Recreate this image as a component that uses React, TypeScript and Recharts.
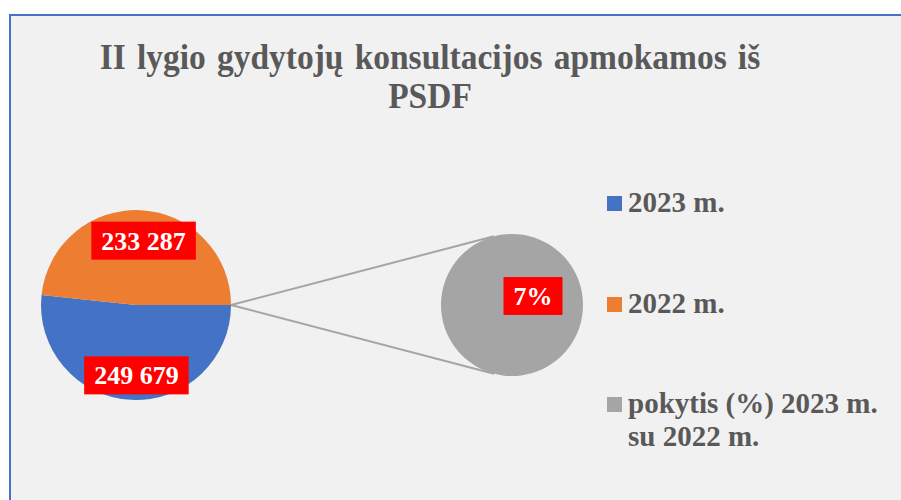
import React from 'react';
import { PieChart, Pie, Cell } from 'recharts';

const categories = ['2023 m.', '2022 m.', 'pokytis (%) 2023 m. su 2022 m.'];
const consultations = [249679, 233287];
const changePercent = [7];
const colors = ['#4472C4', '#ED7D31', '#A5A5A5'];
const titleText = 'II lygio gydytojų konsultacijos apmokamos iš PSDF';

const FONT = '"Liberation Serif", "Times New Roman", serif';
const TEXT_COLOR = '#595959';

// pie geometry (main pie + the "pie of pie")
const MAIN = { cx: 136, cy: 305, r: 95 };
const SUB = { cx: 512, cy: 305, r: 71 };

const mainData = consultations.map((v, i) => ({ name: categories[i], value: v }));
const subData = changePercent.map((v, i) => ({ name: categories[2 + i], value: v }));

const fmtThousands = (v: number) => {
  const s = Math.round(v).toString();
  return s.replace(/\B(?=(\d{3})+(?!\d))/g, ' ');
};

// rough width of bold serif text at 26px
const textWidth = (s: string) =>
  s.split('').reduce((acc, ch) => acc + (ch === ' ' ? 6.5 : ch === '%' ? 26 : 13), 0);

const boxLabel = (fmt: (v: number) => string, factor: number, dx = 0, dy = 0) => (props: any) => {
  const { cx, cy, midAngle, outerRadius, value } = props;
  const RAD = Math.PI / 180;
  const r = outerRadius * factor;
  const x = cx + r * Math.cos(-midAngle * RAD) + dx;
  const y = cy + r * Math.sin(-midAngle * RAD) + dy;
  const text = fmt(value);
  const w = textWidth(text) + 20;
  return (
    <g>
      <rect x={x - w / 2} y={y - 19} width={w} height={38} fill="#FF0000" />
      <text x={x} y={y} dy={9} textAnchor="middle" fill="#FFFFFF" fontFamily={FONT} fontWeight="bold" fontSize={26}>
        {text}
      </text>
    </g>
  );
};

// connector lines from the main pie edge to tangent points of the second pie
const connectors = () => {
  const px = MAIN.cx + MAIN.r;
  const py = MAIN.cy;
  const d = SUB.cx - px;
  const t = Math.acos(SUB.r / d);
  const tx = SUB.cx - SUB.r * Math.cos(t);
  const ty = SUB.r * Math.sin(t);
  return [
    [px, py, tx, SUB.cy - ty],
    [px, py, tx, SUB.cy + ty],
  ];
};

export default function App() {
  return (
    <div style={{ position: 'absolute', left: 0, top: 0, width: 901, height: 500, background: '#fff', overflow: 'hidden' }}>
      <div
        style={{
          position: 'absolute', left: 9, top: 14, width: 920, height: 520,
          background: '#F1F1F1', borderTop: '2px solid #4472C4', borderLeft: '2px solid #4472C4',
        }}
      />
      <div
        style={{
          position: 'absolute', left: 60, top: 38, width: 740, textAlign: 'center',
          fontFamily: FONT, fontWeight: 'bold', fontSize: 36, lineHeight: '39px', color: TEXT_COLOR,
          wordSpacing: 3, transform: 'scaleX(0.93)', transformOrigin: '370px 0',
        }}
      >
        {titleText}
      </div>

      <svg width={901} height={500} style={{ position: 'absolute', left: 0, top: 0 }}>
        {connectors().map(([x1, y1, x2, y2], i) => (
          <line key={i} x1={x1} y1={y1} x2={x2} y2={y2} stroke="#A5A5A5" strokeWidth={2} />
        ))}
      </svg>

      <div style={{ position: 'absolute', left: 0, top: 0 }}>
        <PieChart width={901} height={500} margin={{ top: 0, right: 0, bottom: 0, left: 0 }}>
          <Pie
            data={mainData}
            dataKey="value"
            cx={MAIN.cx}
            cy={MAIN.cy}
            outerRadius={MAIN.r}
            startAngle={0}
            endAngle={-360}
            stroke="none"
            labelLine={false}
            label={boxLabel(fmtThousands, 0.71, 4, 3)}
            isAnimationActive={false}
          >
            {mainData.map((_, i) => (
              <Cell key={i} fill={colors[i]} />
            ))}
          </Pie>
          <Pie
            data={subData}
            dataKey="value"
            cx={SUB.cx}
            cy={SUB.cy}
            outerRadius={SUB.r}
            startAngle={0}
            endAngle={-360}
            stroke="none"
            labelLine={false}
            label={boxLabel((v) => `${v}%`, 0, 21, -9)}
            isAnimationActive={false}
          >
            {subData.map((_, i) => (
              <Cell key={i} fill={colors[2 + i]} />
            ))}
          </Pie>
        </PieChart>
      </div>

      <div
        style={{
          position: 'absolute', left: 607, top: 186, display: 'flex', flexDirection: 'column', gap: 67.5,
          fontFamily: FONT, fontWeight: 'bold', fontSize: 29, lineHeight: '33px', color: TEXT_COLOR,
        }}
      >
        {categories.map((c, i) => (
          <div key={c} style={{ display: 'flex', alignItems: 'flex-start' }}>
            <span style={{ width: 15, height: 15, marginTop: 10, marginRight: 6, background: colors[i], flex: 'none' }} />
            <span style={{ width: 265 }}>{c}</span>
          </div>
        ))}
      </div>
    </div>
  );
}
